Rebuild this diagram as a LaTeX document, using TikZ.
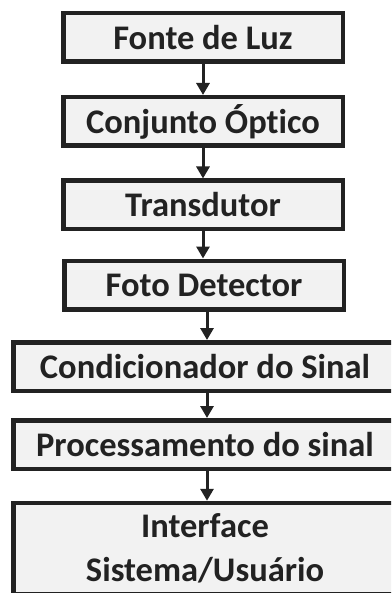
\documentclass[tikz,border=0pt]{standalone}
\usepackage{fontspec}
\setmainfont[Ligatures=NoCommon]{Carlito}
\usetikzlibrary{arrows.meta}
\definecolor{boxfill}{HTML}{F2F2F2}
\definecolor{boxline}{HTML}{222222}
\begin{document}
\begin{tikzpicture}[x=1pt, y=-1pt,
		bloco/.style={draw=boxline, line width=4.5pt, fill=boxfill, inner sep=0pt,
			minimum height=48.5pt, text=boxline, align=center,
			font=\fontsize{34.5}{44}\selectfont\bfseries},
		flow/.style={draw=boxline, line width=3pt, -{Triangle[width=13pt,length=12pt]}}]
		\useasboundingbox (0,0) rectangle (391,593);
		\clip (0,0) rectangle (391,593);
		\node[bloco, minimum width=279.5pt] (B1) at (203,37.5) {Fonte de Luz};
		\node[bloco, minimum width=279.5pt] (B2) at (203,121.5) {Conjunto Óptico};
		\node[bloco, minimum width=279.5pt] (B3) at (203,205) {Transdutor};
		\node[bloco, minimum width=279.5pt] (B4) at (204,285) {Foto Detector};
		\node[bloco, minimum width=383.5pt] (B5) at (205,366.5) {Condicionador do Sinal};
		\node[bloco, minimum width=383.5pt] (B6) at (205,444.5) {Processamento do sinal};
		\node[bloco, minimum width=383.5pt, minimum height=91pt] (B7) at (205,548.5) {Interface\\Sistema/Usuário};
		\draw[flow] (B1.south) -- (B1.south |- B2.north);
		\draw[flow] (B2.south) -- (B2.south |- B3.north);
		\draw[flow] (B3.south) -- (B3.south |- B4.north);
		\draw[flow] ([xshift=3pt]B4.south) -- ([xshift=3pt]B4.south |- B5.north);
		\draw[flow] ([xshift=2pt]B5.south) -- ([xshift=2pt]B5.south |- B6.north);
		\draw[flow] ([xshift=2pt]B6.south) -- ([xshift=2pt]B6.south |- B7.north);
\end{tikzpicture}
\end{document}
